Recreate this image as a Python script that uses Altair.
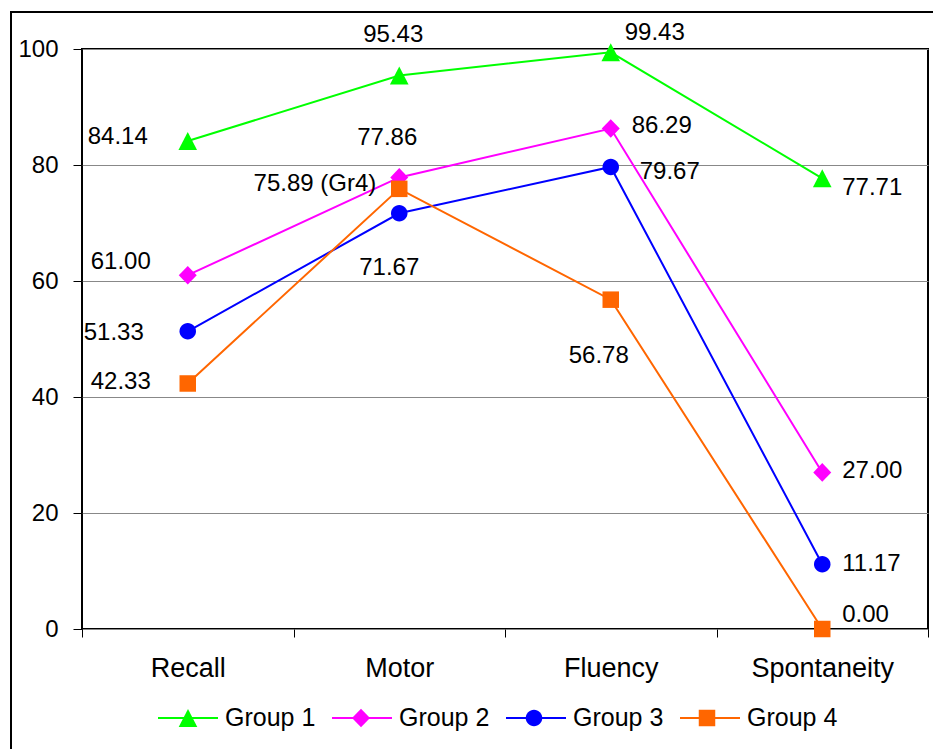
import altair as alt
import pandas as pd

FONT = "Liberation Sans"

categories = ["Recall", "Motor", "Fluency", "Spontaneity"]
groups = ["Group 1", "Group 2", "Group 3", "Group 4"]
group_ids = ["g1", "g2", "g3", "g4"]
group1 = [84.14, 95.43, 99.43, 77.71]
group2 = [61.00, 77.86, 86.29, 27.00]
group3 = [51.33, 71.67, 79.67, 11.17]
group4 = [42.33, 75.89, 56.78, 0.00]
label_suffix = {("Group 4", "Motor"): " (Gr4)"}

colors = ["#00FF00", "#FF00FF", "#0000FF", "#FF6600"]

# marker shapes (unit box -1..1, scaled by sqrt(size)/2)
tri = "M0,-0.6L0.62,0.6L-0.62,0.6Z"
dia = "M0,-0.62L0.6,0L0,0.62L-0.6,0Z"
circ = "M-0.55,0A0.55,0.55,0,1,0,0.55,0A0.55,0.55,0,1,0,-0.55,0Z"
sq = "M-0.55,-0.55H0.55V0.55H-0.55Z"
marker_paths = [tri, dia, circ, sq]

# label placement style (align, dx, dy) per group, per category
placement = {
    "Group 1": [("right", -40, -4), ("center", -6, -41), ("left", 14, -19), ("left", 20, 10)],
    "Group 2": [("right", -37, -13), ("center", -12, -39), ("left", 21, -3), ("left", 20, -1)],
    "Group 3": [("right", -44, 2), ("center", -10, 55), ("left", 29, 5), ("left", 20, 0)],
    "Group 4": [("right", -37, -1), ("right", -23, -5), ("center", -12, 56), ("left", 20, -14)],
}

series = [group1, group2, group3, group4]
rows = []
for g, gid, vals in zip(groups, group_ids, series):
    for c, v in zip(categories, vals):
        rows.append({"grp": g, "gid": gid, "cat": c, "value": v,
                     "label": f"{v:.2f}" + label_suffix.get((g, c), "")})
df = pd.DataFrame(rows)

W, H = 846, 580

xenc = alt.X("cat:N", bandPosition=0.5,
             scale=alt.Scale(type="band", domain=categories, paddingInner=0, paddingOuter=0),
             axis=alt.Axis(title=None, tickBand="extent", ticks=True, tickSize=8, tickColor="black",
                           domain=False, grid=False, labelAngle=0, labelFontSize=27, labelFont=FONT,
                           labelColor="black", labelPadding=31, labelBaseline="middle"))
yenc = alt.Y("value:Q",
             scale=alt.Scale(domain=[0, 100], nice=False, zero=True),
             axis=alt.Axis(title=None, values=[0, 20, 40, 60, 80, 100], grid=True, gridColor="#888888",
                           gridWidth=1, domain=False, tickColor="black", tickSize=9, labelFontSize=24,
                           labelFont=FONT, labelColor="black", labelPadding=15))

base = alt.Chart(df)

# legend A: line segments with group labels
leg_lines = alt.Legend(title=None, orient="none", legendX=75, legendY=638, direction="horizontal",
                       labelFontSize=25, labelFont=FONT, labelColor="black", symbolType="stroke",
                       symbolSize=3600, symbolStrokeWidth=2, labelOffset=6, columnPadding=12, padding=0)
lines = base.mark_line(strokeWidth=2).encode(
    x=xenc, y=yenc,
    stroke=alt.Stroke("grp:N", scale=alt.Scale(domain=groups, range=colors), legend=leg_lines),
)

# legend B: markers only (no labels), laid over the centre of legend A's segments
leg_marks = alt.Legend(title=None, orient="none", legendX=91, legendY=654, direction="horizontal",
                       labelFontSize=25, labelFont=FONT, labelExpr="''", labelOffset=0,
                       symbolSize=900, symbolStrokeWidth=0, columnPadding=143, padding=0,
                       symbolOpacity=1)
points = base.mark_point(filled=True, size=900, opacity=1).encode(
    x=xenc, y=yenc,
    color=alt.Color("gid:N", scale=alt.Scale(domain=group_ids, range=colors), legend=leg_marks),
    shape=alt.Shape("gid:N", scale=alt.Scale(domain=group_ids, range=marker_paths), legend=leg_marks),
)

texts = []
for g in groups:
    for c, (al, dx, dy) in zip(categories, placement[g]):
        texts.append(
            base.transform_filter((alt.datum.grp == g) & (alt.datum.cat == c))
            .mark_text(align=al, dx=dx, dy=dy, baseline="middle", fontSize=24, font=FONT, color="black")
            .encode(x=xenc, y=yenc, text="label:N")
        )

frame = alt.Chart(pd.DataFrame({"k": [0]})).mark_rect(fillOpacity=0, stroke="black", strokeWidth=2).encode(
    x=alt.value(-71), x2=alt.value(1000), y=alt.value(-37), y2=alt.value(900)
)

chart = alt.layer(frame, lines, points, *texts).properties(
    width=W, height=H,
    autosize=alt.AutoSizeParams(type="none"),
    padding={"left": 82, "top": 49, "right": 5, "bottom": 120},
    background="white",
).configure_view(stroke="black", strokeWidth=2)

chart.save("out.html", embed_options={"renderer": "svg", "actions": False})
